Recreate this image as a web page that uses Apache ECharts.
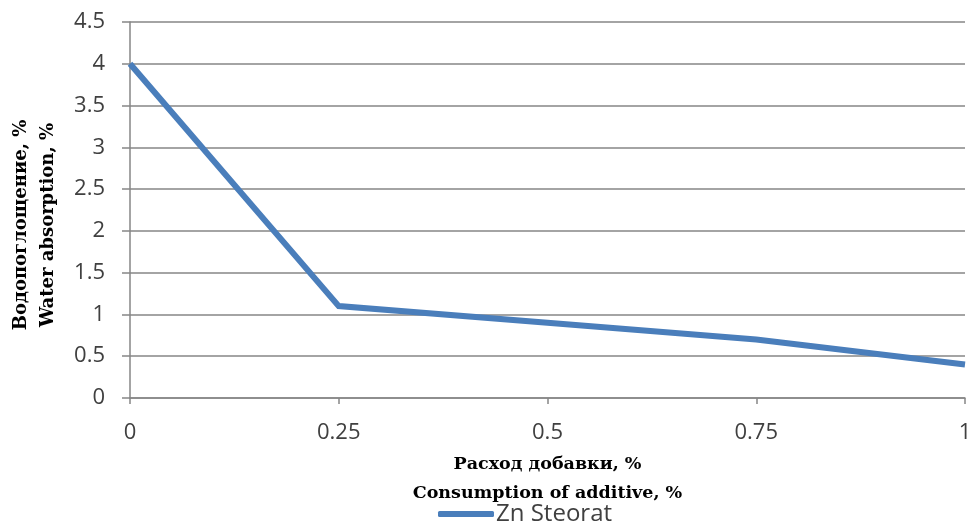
<!DOCTYPE html>
<html><head><meta charset="utf-8">
<script src="https://cdn.jsdelivr.net/npm/echarts@6/dist/echarts.min.js"></script>
<style>html,body{margin:0;padding:0;background:#fff}#c{width:973px;height:524px}</style>
</head><body><div id="c"></div>
<script>
const xValues = [0, 0.25, 0.5, 0.75, 1];
const waterAbsorption = [4.0, 1.1, 0.9, 0.7, 0.4];
const seriesName = 'Zn Steorat';
const xTitle = 'Расход добавки, %\nConsumption of additive, %';
const yTitle = 'Водопоглощение, %\nWater absorption, %';

const chart = echarts.init(document.getElementById('c'));
const gray = '#868686';
chart.setOption({
  animation: false,
  backgroundColor: '#fff',
  grid: {left: 130, right: 8, top: 22, bottom: 126, containLabel: false, outerBoundsMode: 'none'},
  legend: {
    bottom: -7, left: 433, itemWidth: 56, itemHeight: 6, itemGap: 4,
    icon: 'roundRect',
    textStyle: {fontFamily: 'Open Sans', fontSize: 24, color: '#404040', padding: [0,0,0,-3]},
    data: [seriesName]
  },
  xAxis: {
    type: 'value', min: 0, max: 1, interval: 0.25,
    name: xTitle, nameLocation: 'middle', nameGap: 52,
    nameTextStyle: {fontFamily: 'DejaVu Serif', fontWeight: 'bold', fontSize: 17.5, color: '#000', lineHeight: 29},
    axisLine: {show: true, lineStyle: {color: gray, width: 1.5}},
    axisTick: {show: true, inside: false, length: 6, lineStyle: {color: gray, width: 1.5}},
    axisLabel: {fontFamily: 'Open Sans', fontSize: 22, color: '#404040', margin: 24,
      formatter: v => String(v)},
    splitLine: {show: false}
  },
  yAxis: {
    type: 'value', min: 0, max: 4.5, interval: 0.5,
    name: yTitle, nameLocation: 'middle', nameGap: 68, nameRotate: 90,
    nameTextStyle: {fontFamily: 'DejaVu Serif', fontWeight: 'bold', fontSize: 18, color: '#000', lineHeight: 27,
      padding: [0, 30, 0, 0]},
    axisLine: {show: true, lineStyle: {color: gray, width: 1.5}},
    axisTick: {show: true, inside: false, length: 8, lineStyle: {color: gray, width: 1.5}},
    axisLabel: {fontFamily: 'Open Sans', fontSize: 22, color: '#404040', margin: 25,
      formatter: v => String(v)},
    splitLine: {show: true, lineStyle: {color: gray, width: 1.5}}
  },
  series: [{
    name: seriesName, type: 'line',
    data: xValues.map((x, i) => [x, waterAbsorption[i]]),
    showSymbol: false, symbol: 'none',
    lineStyle: {color: '#4a7ebb', width: 6, cap: 'butt', join: 'miter'},
    itemStyle: {color: '#4a7ebb'}
  }]
});
</script></body></html>
